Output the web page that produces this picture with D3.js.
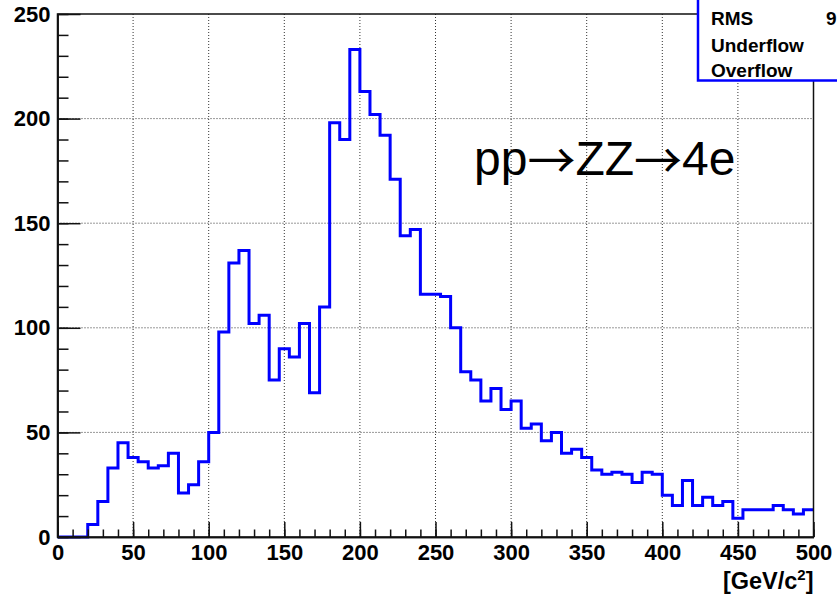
<!DOCTYPE html>
<html>
<head>
<meta charset="utf-8">
<script src="https://cdn.jsdelivr.net/npm/d3@7"></script>
<style>
  html, body { margin: 0; padding: 0; background: #fff; }
  svg { display: block; }
</style>
</head>
<body>
<svg id="chart" width="837" height="598"></svg>
<script>
// ---- data ----
const binLow = 0;
const binHigh = 500;
const nBins = 75;
const counts = [
  0, 0, 0, 6, 17, 33, 45, 38, 36, 33,
  34, 40, 21, 25, 36, 50, 98, 131, 137, 102,
  106, 75, 90, 86, 102, 69, 110, 198, 190, 233,
  213, 202, 192, 171, 144, 147, 116, 116, 115, 100,
  79, 75, 65, 71, 61, 65, 52, 54, 46, 50,
  40, 42, 38, 32, 30, 31, 30, 26, 31, 30,
  20, 15, 27, 15, 19, 15, 17, 9, 13, 13,
  13, 15, 13, 11, 13
];
const xTicks = [0, 50, 100, 150, 200, 250, 300, 350, 400, 450, 500];
const yTicks = [0, 50, 100, 150, 200, 250];
const xMinorTicks = d3.range(0, 501, 10);
const yMinorTicks = d3.range(0, 251, 10);
const xTitle = "[GeV/c";
const xTitleSup = "2";
const plotLabelParts = ["pp", "\u2192", "ZZ", "\u2192", "4e"];
const statsLabels = ["RMS", "Underflow", "Overflow"];
const statsValues = ["9", "", ""];

// ---- layout ----
const svg = d3.select("#chart");
const L = 57.5, R = 813.5, T = 14, B = 537;
const FONT = "'Liberation Sans', Arial, Helvetica, sans-serif";

const x = d3.scaleLinear().domain([binLow, binHigh]).range([L, R]);
const y = d3.scaleLinear().domain([0, 250]).range([B, T]);

// grid
const grid = svg.append("g").attr("stroke", "#333").attr("stroke-width", 1)
  .attr("stroke-dasharray", "1,2").attr("fill", "none");
xTicks.filter(t => t > 0 && t < 500).forEach(t => {
  grid.append("line").attr("x1", x(t)).attr("x2", x(t)).attr("y1", T).attr("y2", B);
});
yTicks.filter(t => t > 0 && t < 250).forEach(t => {
  grid.append("line").attr("x1", L).attr("x2", R).attr("y1", y(t)).attr("y2", y(t));
});

// histogram
const bw = (binHigh - binLow) / nBins;
const pts = counts.map((c, i) => [binLow + i * bw, c]);
pts.push([binHigh, counts[counts.length - 1]]);
const line = d3.line().x(d => x(d[0])).y(d => y(d[1])).curve(d3.curveStepAfter);
svg.append("path").attr("d", line(pts))
  .attr("fill", "none").attr("stroke", "#0000ff").attr("stroke-width", 3)
  .attr("stroke-linejoin", "miter");

// frame
svg.append("rect").attr("x", L).attr("y", T).attr("width", R - L).attr("height", B - T)
  .attr("fill", "none").attr("stroke", "#111").attr("stroke-width", 1.5);

// axes
function styleAxis(g) {
  g.selectAll("path.domain").attr("stroke", "#111").attr("stroke-width", 1.5);
  g.selectAll(".tick line").attr("stroke", "#111").attr("stroke-width", 1.5);
  g.selectAll("text").attr("font-family", FONT).attr("font-weight", "bold")
    .attr("font-size", 22).attr("fill", "#000");
}
const yMinor = svg.append("g").attr("transform", `translate(${L},0)`)
  .call(d3.axisLeft(y).tickValues(yMinorTicks).tickSizeInner(-11).tickSizeOuter(0).tickFormat(""));
styleAxis(yMinor);
const yAxis = svg.append("g").attr("transform", `translate(${L},0)`)
  .call(d3.axisLeft(y).tickValues(yTicks).tickSizeInner(-23).tickSizeOuter(0).tickPadding(7)
    .tickFormat(d3.format("d")));
styleAxis(yAxis);

const xMinor = svg.append("g").attr("transform", `translate(0,${B})`)
  .call(d3.axisBottom(x).tickValues(xMinorTicks).tickSizeInner(-7.5).tickSizeOuter(0).tickFormat(""));
styleAxis(xMinor);
const xAxis = svg.append("g").attr("transform", `translate(0,${B})`)
  .call(d3.axisBottom(x).tickValues(xTicks).tickSizeInner(-15).tickSizeOuter(0).tickPadding(7.5)
    .tickFormat(d3.format("d")));
styleAxis(xAxis);

// axis title
const xt = svg.append("text").attr("x", R).attr("y", 589).attr("text-anchor", "end")
  .attr("font-family", FONT).attr("font-weight", "bold").attr("font-size", 23.5).attr("fill", "#000");
xt.append("tspan").text(xTitle);
xt.append("tspan").attr("font-size", 15).attr("dy", -9.5).text(xTitleSup);
xt.append("tspan").attr("dy", 9.5).text("]");

// label
const lbl = svg.append("text").attr("x", 474).attr("y", 175)
  .attr("font-family", FONT).attr("font-size", 48).attr("fill", "#000");
plotLabelParts.forEach(p => {
  if (p === "\u2192") {
    lbl.append("tspan").attr("font-family", "'Noto Sans CJK JP', 'DejaVu Sans', sans-serif")
      .attr("font-size", 48).attr("dy", 3).text(p);
  } else {
    lbl.append("tspan").attr("dy", p === "pp" ? 0 : -3).text(p);
  }
});

// stats box
svg.append("rect").attr("x", 698).attr("y", -100).attr("width", 200).attr("height", 180.5)
  .attr("fill", "#fff").attr("stroke", "#0000ff").attr("stroke-width", 2.5);
const sy = [25, 51.5, 77];
statsLabels.forEach((s, i) => {
  svg.append("text").attr("x", 711).attr("y", sy[i])
    .attr("font-family", FONT).attr("font-weight", "bold").attr("font-size", 19).attr("fill", "#000").text(s);
  if (statsValues[i]) {
    svg.append("text").attr("x", 826).attr("y", sy[i])
      .attr("font-family", FONT).attr("font-weight", "bold").attr("font-size", 19).attr("fill", "#000").text(statsValues[i]);
  }
});
</script>
</body>
</html>
